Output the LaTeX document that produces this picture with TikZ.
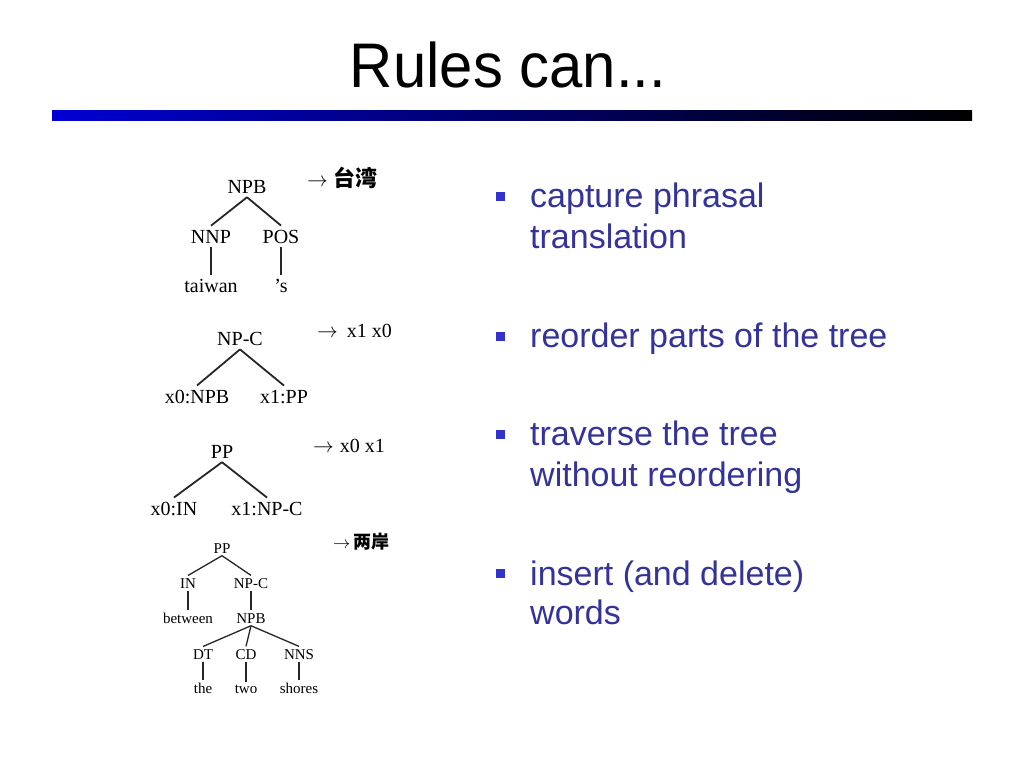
\documentclass[tikz,border=0pt]{standalone}
\usepackage{fontspec}
\setmainfont{Liberation Sans}
\newfontfamily\titlefont{Liberation Sans}[FakeStretch=0.95]
\newfontfamily\treefont{Liberation Serif}
\newfontfamily\cjk{Noto Sans CJK SC}
\usetikzlibrary{positioning}
\definecolor{bulletblue}{RGB}{51,51,204}
\definecolor{textblue}{RGB}{51,51,153}
\definecolor{barblue}{RGB}{0,0,210}
\tikzset{
  big/.style={inner xsep=1pt, inner ysep=4pt, anchor=base, font=\treefont\fontsize{20}{24}\selectfont},
  small/.style={inner xsep=1pt, inner ysep=2.5pt, anchor=base, font=\treefont\fontsize{15}{18}\selectfont},
  branch/.style={line width=1.8pt, black!85},
  twig/.style={line width=1.3pt, black!85},
  rhs/.style={anchor=base west, inner sep=0pt, font=\treefont\fontsize{20}{24}\selectfont},
  sq/.style={fill=bulletblue, inner sep=0pt, minimum size=9pt},
  item/.style={anchor=base west, inner sep=0pt, text=textblue, font=\fontsize{34}{40}\selectfont}
}

\begin{document}
\begin{tikzpicture}[x=1pt,y=-1pt]
\useasboundingbox (0,0) rectangle (1024,768);

% Title and bar
\node[anchor=base, font=\titlefont\fontsize{63}{70}\selectfont] (title) at (508,87) {Rules can...};
\shade[left color=barblue, right color=black] (52,110) rectangle (972,120);

% Rule 1: NPB
\foreach \n/\x/\y/\t in {npb/247/193/NPB, nnp/211/243/NNP, pos/281/243/POS, taiwan/211/292/taiwan, poss/281/292/’s} {
    \node[big] (\n) at (\x,\y) {\t};
}
\draw[branch] (npb.south) -- (nnp.north);
\draw[branch] (npb.south) -- (pos.north);
\draw[branch] (nnp.south) -- (nnp.south |- taiwan.north);
\draw[branch] (pos.south) -- (pos.south |- poss.north);
\node[rhs] (rhs1) at (307,186) {$\rightarrow$\hspace{6pt}{\cjk\bfseries\fontsize{22}{24}\selectfont 台湾}};

% Rule 2: NP-C
\foreach \n/\x/\y/\t in {npc/240/345/NP-C, xnpb/197/403/x0:NPB, xpp/284/403/x1:PP} {
    \node[big] (\n) at (\x,\y) {\t};
}
\draw[branch] (npc.south) -- (xnpb.north);
\draw[branch] (npc.south) -- (xpp.north);
\node[rhs] (rhs2) at (317,337) {$\rightarrow$\hspace{9pt}x1 x0};

% Rule 3: PP
\foreach \n/\x/\y/\t in {pp/222/458/PP, xin/174/515/x0:IN, xnpc/267/515/x1:NP-C} {
    \node[big] (\n) at (\x,\y) {\t};
}
\draw[branch] (pp.south) -- (xin.north);
\draw[branch] (pp.south) -- (xnpc.north);
\node[rhs] (rhs3) at (313,452) {$\rightarrow$\hspace{6pt}x0 x1};

% Rule 4: PP with words
\foreach \n/\x/\y/\t in {spp/222/553/PP, sin/188/588/IN, snpc/251/588/NP-C, between/188/623/between, snpb/251/623/NPB,
                         dt/203/659/DT, cd/246/659/CD, nns/299/659/NNS, the/203/693/the, two/246/693/two, shores/299/693/shores} {
    \node[small] (\n) at (\x,\y) {\t};
}
\draw[twig] (spp.south) -- (sin.north);
\draw[twig] (spp.south) -- (snpc.north);
\draw[twig] (sin.south) -- (sin.south |- between.north);
\draw[twig] (snpc.south) -- (snpc.south |- snpb.north);
\draw[twig] (snpb.south) -- (dt.north);
\draw[twig] (snpb.south) -- (cd.north);
\draw[twig] (snpb.south) -- (nns.north);
\draw[twig] (dt.south) -- (dt.south |- the.north);
\draw[twig] (cd.south) -- (cd.south |- two.north);
\draw[twig] (nns.south) -- (nns.south |- shores.north);
\node[rhs, font=\treefont\fontsize{16}{20}\selectfont] (rhs4) at (333,548) {$\rightarrow$\hspace{3pt}{\cjk\bfseries\fontsize{18}{20}\selectfont 两岸}};

% Bullets
\foreach \i/\y in {1/196, 2/336, 3/434, 4/573} {
    \node[sq] (sq\i) at (500,\y) {};
}
\node[item] (cap1) at (530,207) {capture phrasal};
\node[item] (cap2) at (530,248) {translation};
\node[item] (reord) at (530,347) {reorder parts of the tree};
\node[item] (trav1) at (530,445) {traverse the tree};
\node[item] (trav2) at (530,486) {without reordering};
\node[item] (ins1) at (530,585) {insert (and delete)};
\node[item] (ins2) at (530,624) {words};

\end{tikzpicture}
\end{document}
